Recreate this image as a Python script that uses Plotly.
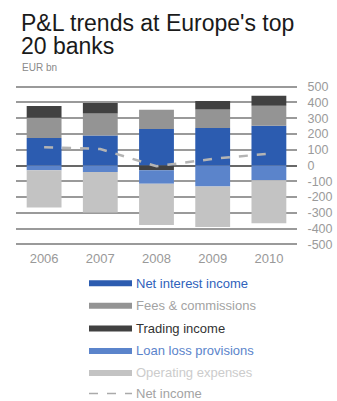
import plotly.graph_objects as go

years = ["2006", "2007", "2008", "2009", "2010"]
net_interest = [174, 191, 232, 238, 253]
fees = [129, 139, 122, 118, 127]
trading = [75, 67, -30, 54, 62]
loan_loss = [-30, -41, -86, -133, -94]
opex = [-236, -257, -262, -258, -273]
net_income = [116, 105, -5, 42, 75]

series_names = ["Net interest income", "Fees & commissions", "Trading income",
                "Loan loss provisions", "Operating expenses", "Net income"]
colors = ["#2c5cb0", "#949494", "#414141", "#5b84cb", "#c3c3c3", "#b4b4b4"]
text_colors = ["#2f62bb", "#a3a3a3", "#333333", "#5b84cb", "#cccccc", "#a3a3a3"]
yticks = [500, 400, 300, 200, 100, 0, -100, -200, -300, -400, -500]

W, H = 337, 401
L, R, T, B = 16, 40, 82.2, 152.2

def px(x):
    return (x - L) / (W - L - R)

def py(y):
    return (H - B - y) / (H - T - B)

fig = go.Figure()
for vals, name, col in zip([net_interest, fees, trading, loan_loss, opex],
                           series_names[:5], colors[:5]):
    fig.add_trace(go.Bar(x=years, y=vals, name=name, marker=dict(color=col, line=dict(width=0))))
fig.add_trace(go.Scatter(x=years, y=net_income, name=series_names[5], mode="lines",
                         line=dict(color=colors[5], width=2.5, dash="dash")))

fig.update_layout(
    width=W, height=H,
    margin=dict(l=L, r=R, t=T, b=B, pad=0, autoexpand=False),
    paper_bgcolor="white", plot_bgcolor="white",
    barmode="relative", bargap=0.38,
    showlegend=False,
    font=dict(family="Liberation Sans, Arial, sans-serif", color="#999999"),
    xaxis=dict(showgrid=False, showline=False, ticks="", zeroline=False,
               tickfont=dict(size=13, color="#999999"), ticklabelstandoff=0),
    yaxis=dict(side="right", range=[-530, 530], tickvals=yticks,
               ticktext=[str(v) for v in yticks], automargin=False,
               showgrid=True, gridcolor="#9a9a9a", gridwidth=1.5,
               zeroline=True, zerolinecolor="#686868", zerolinewidth=2,
               showline=False, ticks="outside", ticklen=7, tickcolor="rgba(0,0,0,0)",
               tickfont=dict(size=12.5, color="#9a9a9a")),
)

# Title and subtitle
fig.add_annotation(text="P&L trends at Europe's top", x=px(19), y=py(23.5), xref="paper", yref="paper",
                   xanchor="left", yanchor="middle", showarrow=False,
                   font=dict(size=23, color="#1a1a1a"))
fig.add_annotation(text="20 banks", x=px(19), y=py(46.5), xref="paper", yref="paper",
                   xanchor="left", yanchor="middle", showarrow=False,
                   font=dict(size=23, color="#1a1a1a"))
fig.add_annotation(text="EUR bn", x=px(20), y=py(68), xref="paper", yref="paper",
                   xanchor="left", yanchor="middle", showarrow=False,
                   font=dict(size=10, color="#8a8a8a"))

# Legend
leg_y = [283, 305.5, 328, 350.5, 372.5, 393]
for i, (name, col, tcol) in enumerate(zip(series_names, colors, text_colors)):
    yy = py(leg_y[i])
    if i < 5:
        fig.add_shape(type="line", xref="paper", yref="paper", x0=px(89), x1=px(132), y0=yy, y1=yy,
                      line=dict(color=col, width=6))
    else:
        fig.add_shape(type="line", xref="paper", yref="paper", x0=px(89), x1=px(132), y0=yy, y1=yy,
                      line=dict(color="#aaaaaa", width=1.5, dash="dash"))
    fig.add_annotation(text=name, x=px(134), y=yy, xref="paper", yref="paper",
                       xanchor="left", yanchor="middle", showarrow=False,
                       font=dict(size=13, color=tcol))

fig.write_html("out.html")
